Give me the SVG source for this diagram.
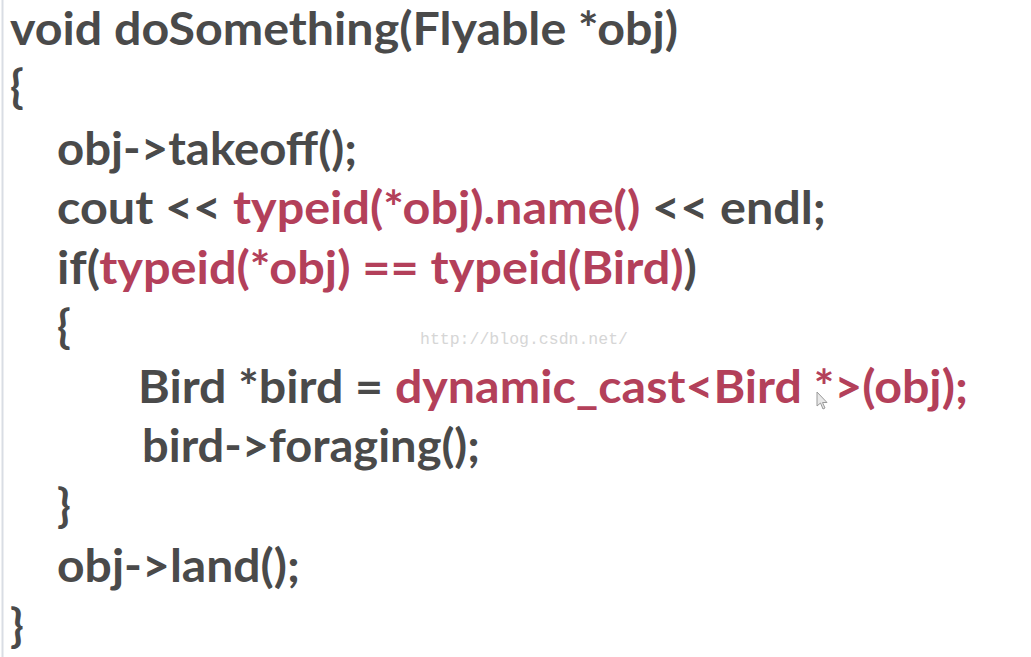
<svg xmlns="http://www.w3.org/2000/svg" width="1031" height="657" viewBox="0 0 1031 657">
  <style>
    .code { font-family: Lato, "Open Sans", "Liberation Sans", sans-serif; font-weight: 700; font-size: 45px; fill: #4a4a4a; }
    .kw { fill: #b3405a; }
    .dk { fill: #4a4a4a; }
    .wm { font-family: "Liberation Mono", "DejaVu Sans Mono", monospace; font-size: 17px; fill: #d6d6d6; }
  </style>
  <rect x="0" y="0" width="1031" height="657" fill="#ffffff"/>
  <line x1="2.5" y1="0" x2="2.5" y2="657" stroke="#d9dde4" stroke-width="2"/>

  <g id="line1"><text class="code" x="10" y="45" textLength="668" lengthAdjust="spacingAndGlyphs">void doSomething(Flyable *obj)</text></g>
  <g id="line2"><text class="code" x="10" y="103">{</text></g>
  <g id="line3"><text class="code" x="57" y="165" textLength="300" lengthAdjust="spacingAndGlyphs">obj-&gt;takeoff();</text></g>
  <g id="line4"><text class="code" x="57" y="224" textLength="769" lengthAdjust="spacingAndGlyphs">cout &lt;&lt; <tspan class="kw">typeid(*obj).name()</tspan> &lt;&lt; endl;</text></g>
  <g id="line5"><text class="code" x="57" y="284" textLength="640" lengthAdjust="spacingAndGlyphs">if(<tspan class="kw">typeid(*obj) == typeid(Bird)</tspan>)</text></g>
  <g id="line6"><text class="code" x="57" y="343">{</text></g>
  <g id="line7"><text class="code" x="138" y="403" textLength="830" lengthAdjust="spacingAndGlyphs">Bird *bird = <tspan class="kw">dynamic_cast&lt;Bird *&gt;(obj);</tspan></text></g>
  <g id="line8"><text class="code" x="142" y="462" textLength="338" lengthAdjust="spacingAndGlyphs">bird-&gt;foraging();</text></g>
  <g id="line9"><text class="code" x="57" y="522">}</text></g>
  <g id="line10"><text class="code" x="57" y="582" textLength="243" lengthAdjust="spacingAndGlyphs">obj-&gt;land();</text></g>
  <g id="line11"><text class="code" x="10" y="642">}</text></g>

  <g id="watermark"><text class="wm" x="420" y="344" textLength="208" lengthAdjust="spacingAndGlyphs">http://blog.csdn.net/</text></g>
  <g id="cursor">
    <path d="M817,392 L817,406 L820.5,403 L823,409 L825,408 L822.5,402.5 L827,402.5 Z" fill="#e8e8e8" stroke="#9a9a9a" stroke-width="1"/>
  </g>
</svg>
